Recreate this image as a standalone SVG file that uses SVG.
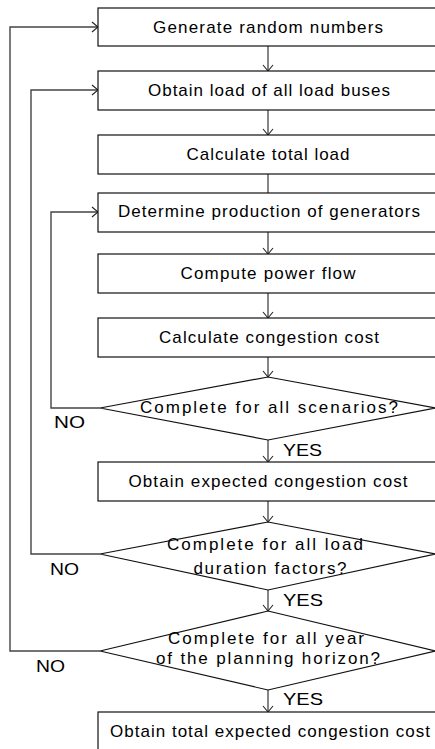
<svg xmlns="http://www.w3.org/2000/svg" width="435" height="749" viewBox="0 0 435 749">
<style>
.box{fill:#fff;stroke:#111;stroke-width:1.2}
.t{font-family:"Liberation Sans",Arial,sans-serif;font-size:17px;fill:#000;text-anchor:middle}
.l{font-family:"Liberation Sans",Arial,sans-serif;font-size:17px;fill:#000}
.c{fill:none;stroke:#222;stroke-width:1.1}
.loop{fill:none;stroke:#444;stroke-width:1.4}
</style>
<defs>
<marker id="a" markerUnits="userSpaceOnUse" markerWidth="10" markerHeight="14" refX="7" refY="6" orient="auto" viewBox="0 0 10 12">
<path d="M1,1 L7,6 L1,11" fill="none" stroke="#222" stroke-width="1.1"/>
</marker>
</defs>
<rect width="435" height="749" fill="#fff"/>
<g id="connectors">
<path class="c" d="M268,46 V71" marker-end="url(#a)"/>
<path class="c" d="M268,110 V135" marker-end="url(#a)"/>
<path class="c" d="M268,174 V193"/>
<path class="c" d="M268,232 V254" marker-end="url(#a)"/>
<path class="c" d="M268,293 V318" marker-end="url(#a)"/>
<path class="c" d="M268,357 V377" marker-end="url(#a)"/>
<path class="c" d="M268,440 V462" marker-end="url(#a)"/>
<path class="c" d="M268,501 V522" marker-end="url(#a)"/>
<path class="c" d="M268,590 V611" marker-end="url(#a)"/>
<path class="c" d="M268,690 V712" marker-end="url(#a)"/>
<path class="loop" d="M100,408 H51 V212 H98" marker-end="url(#a)"/>
<path class="loop" d="M100,554 H31 V90 H98" marker-end="url(#a)"/>
<path class="loop" d="M100,651 H10 V27 H98" marker-end="url(#a)"/>
<text class="l" x="54" y="428" textLength="31" lengthAdjust="spacingAndGlyphs">NO</text>
<text class="l" x="283" y="456" textLength="39" lengthAdjust="spacingAndGlyphs">YES</text>
<text class="l" x="50" y="575" textLength="29" lengthAdjust="spacingAndGlyphs">NO</text>
<text class="l" x="283" y="606" textLength="40" lengthAdjust="spacingAndGlyphs">YES</text>
<text class="l" x="36" y="672" textLength="29" lengthAdjust="spacingAndGlyphs">NO</text>
<text class="l" x="283" y="705" textLength="40" lengthAdjust="spacingAndGlyphs">YES</text>
</g>
<g id="n1"><rect class="box" x="98" y="8" width="340" height="38"/><text class="t" x="268" y="33" textLength="230" lengthAdjust="spacing">Generate random numbers</text></g>
<g id="n2"><rect class="box" x="98" y="71" width="340" height="39"/><text class="t" x="269" y="96" textLength="242" lengthAdjust="spacing">Obtain load of all load buses</text></g>
<g id="n3"><rect class="box" x="98" y="135" width="340" height="39"/><text class="t" x="268" y="160" textLength="163" lengthAdjust="spacing">Calculate total load</text></g>
<g id="n4"><rect class="box" x="98" y="193" width="340" height="39"/><text class="t" x="269" y="217" textLength="302" lengthAdjust="spacing">Determine production of generators</text></g>
<g id="n5"><rect class="box" x="98" y="254" width="340" height="39"/><text class="t" x="268" y="279" textLength="175" lengthAdjust="spacing">Compute power flow</text></g>
<g id="n6"><rect class="box" x="98" y="318" width="340" height="39"/><text class="t" x="269" y="343" textLength="220" lengthAdjust="spacing">Calculate congestion cost</text></g>
<g id="d1"><polygon class="box" points="268,377 436,408 268,440 100,408"/><text class="t" x="269" y="413" textLength="258" lengthAdjust="spacing">Complete for all scenarios?</text></g>
<g id="n7"><rect class="box" x="98" y="462" width="340" height="39"/><text class="t" x="268" y="487" textLength="279" lengthAdjust="spacing">Obtain expected congestion cost</text></g>
<g id="d2"><polygon class="box" points="268,522 436,554 268,590 100,554"/><text class="t" x="265" y="550" textLength="196" lengthAdjust="spacing">Complete for all load</text><text class="t" x="270" y="574" textLength="153" lengthAdjust="spacing">duration factors?</text></g>
<g id="d3"><polygon class="box" points="268,611 436,651 268,690 100,651"/><text class="t" x="266" y="644" textLength="196" lengthAdjust="spacing">Complete for all year</text><text class="t" x="268" y="664" textLength="224" lengthAdjust="spacing">of the planning horizon?</text></g>
<g id="n8"><rect class="box" x="98" y="712" width="340" height="48"/><text class="t" x="270" y="737" textLength="320" lengthAdjust="spacing">Obtain total expected congestion cost</text></g>
</svg>
